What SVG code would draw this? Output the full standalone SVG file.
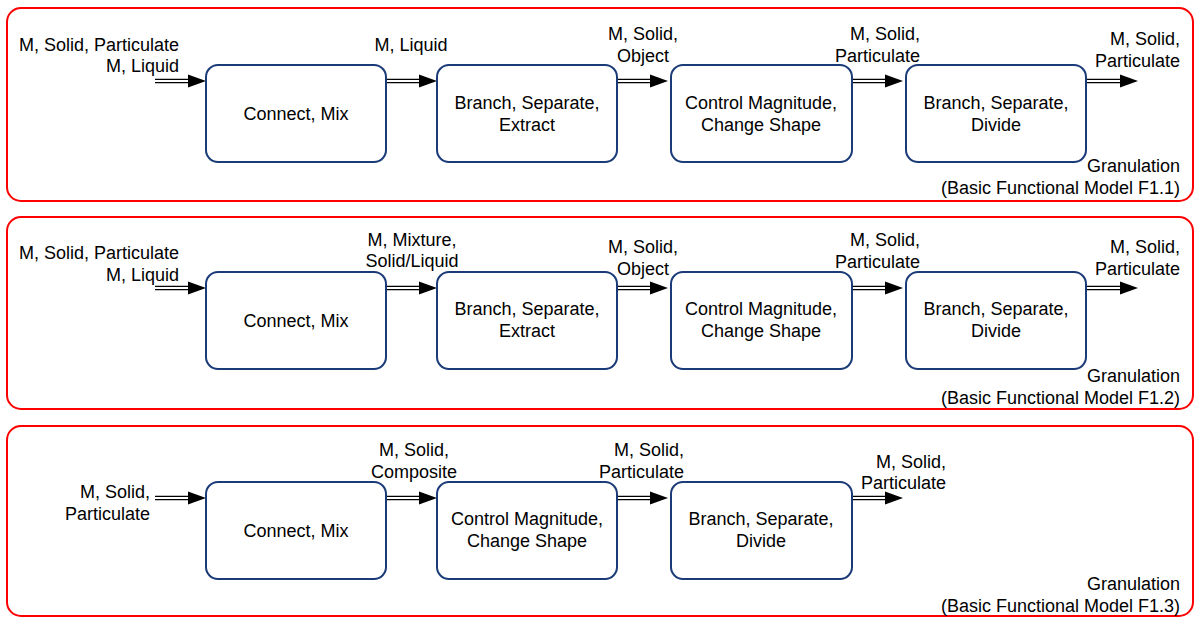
<svg xmlns="http://www.w3.org/2000/svg" width="1194" height="617" viewBox="0 0 1194 617">
<style>
.panel{fill:none;stroke:#ff0000;stroke-width:2}
.box{fill:#ffffff;stroke:#1a3a78;stroke-width:2}
text{font-family:"Liberation Sans",Arial,sans-serif;font-size:18px;fill:#000}
.m{text-anchor:middle}
.e{text-anchor:end}
.lo{stroke:#000;stroke-width:4.6;fill:none}
.li{stroke:#fff;stroke-width:2;fill:none}
</style>
<defs>
<g id="arr">
<line class="lo" x1="0" y1="0" x2="34" y2="0"/>
<line class="li" x1="0" y1="0" x2="34" y2="0"/>
<polygon points="33,-6.5 51,0 33,6.5" fill="#000"/>
</g>
</defs>
<rect class="panel" x="7" y="8" width="1186" height="193" rx="14"/>
<rect class="panel" x="7" y="217" width="1186" height="192" rx="14"/>
<rect class="panel" x="7" y="426" width="1186" height="190" rx="14"/>
<g id="connectors">
<use href="#arr" x="155" y="81"/>
<use href="#arr" x="386" y="81"/>
<use href="#arr" x="617" y="81"/>
<use href="#arr" x="852" y="81"/>
<use href="#arr" x="1087" y="81"/>
<use href="#arr" x="155" y="288"/>
<use href="#arr" x="386" y="288"/>
<use href="#arr" x="617" y="288"/>
<use href="#arr" x="852" y="288"/>
<use href="#arr" x="1087" y="288"/>
<use href="#arr" x="155" y="498"/>
<use href="#arr" x="386" y="498"/>
<use href="#arr" x="617" y="498"/>
<use href="#arr" x="852" y="498"/>
</g>
<g id="p1n1"><rect class="box" x="206" y="65" width="180" height="97" rx="12"/><text class="m" x="296" y="120">Connect, Mix</text></g>
<g id="p1n2"><rect class="box" x="437" y="65" width="180" height="97" rx="12"/><text class="m" x="527" y="109">Branch, Separate,</text><text class="m" x="527" y="131">Extract</text></g>
<g id="p1n3"><rect class="box" x="671" y="65" width="181" height="97" rx="12"/><text class="m" x="761" y="109">Control Magnitude,</text><text class="m" x="761" y="131">Change Shape</text></g>
<g id="p1n4"><rect class="box" x="906" y="65" width="180" height="97" rx="12"/><text class="m" x="996" y="109">Branch, Separate,</text><text class="m" x="996" y="131">Divide</text></g>
<g id="p1labels">
<text class="e" x="179" y="50.5">M, Solid, Particulate</text>
<text class="e" x="179" y="72">M, Liquid</text>
<text class="m" x="411" y="50.5">M, Liquid</text>
<text class="m" x="643" y="39.5">M, Solid,</text><text class="m" x="643" y="61.5">Object</text>
<text class="e" x="920" y="39.5">M, Solid,</text><text class="e" x="920" y="61.5">Particulate</text>
<text class="e" x="1180" y="44.5">M, Solid,</text><text class="e" x="1180" y="66.5">Particulate</text>
<text class="e" x="1180" y="171.5">Granulation</text>
<text class="e" x="1180" y="193.5">(Basic Functional Model F1.1)</text>
</g>
<g id="p2n1"><rect class="box" x="206" y="272" width="180" height="97" rx="12"/><text class="m" x="296" y="327">Connect, Mix</text></g>
<g id="p2n2"><rect class="box" x="437" y="272" width="180" height="97" rx="12"/><text class="m" x="527" y="315">Branch, Separate,</text><text class="m" x="527" y="337">Extract</text></g>
<g id="p2n3"><rect class="box" x="671" y="272" width="181" height="97" rx="12"/><text class="m" x="761" y="315">Control Magnitude,</text><text class="m" x="761" y="337">Change Shape</text></g>
<g id="p2n4"><rect class="box" x="906" y="272" width="180" height="97" rx="12"/><text class="m" x="996" y="315">Branch, Separate,</text><text class="m" x="996" y="337">Divide</text></g>
<g id="p2labels">
<text class="e" x="179" y="258.5">M, Solid, Particulate</text>
<text class="e" x="179" y="280.5">M, Liquid</text>
<text class="m" x="412" y="245.5">M, Mixture,</text><text class="m" x="412" y="267">Solid/Liquid</text>
<text class="m" x="643" y="252.5">M, Solid,</text><text class="m" x="643" y="274.5">Object</text>
<text class="e" x="920" y="245.5">M, Solid,</text><text class="e" x="920" y="267.5">Particulate</text>
<text class="e" x="1180" y="252.5">M, Solid,</text><text class="e" x="1180" y="274.5">Particulate</text>
<text class="e" x="1180" y="381.5">Granulation</text>
<text class="e" x="1180" y="403.5">(Basic Functional Model F1.2)</text>
</g>
<g id="p3n1"><rect class="box" x="206" y="482" width="180" height="97" rx="12"/><text class="m" x="296" y="537">Connect, Mix</text></g>
<g id="p3n2"><rect class="box" x="437" y="482" width="180" height="97" rx="12"/><text class="m" x="527" y="525">Control Magnitude,</text><text class="m" x="527" y="547">Change Shape</text></g>
<g id="p3n3"><rect class="box" x="671" y="482" width="181" height="97" rx="12"/><text class="m" x="761" y="525">Branch, Separate,</text><text class="m" x="761" y="547">Divide</text></g>
<g id="p3labels">
<text class="e" x="150" y="498">M, Solid,</text><text class="e" x="150" y="519.5">Particulate</text>
<text class="m" x="414" y="455.5">M, Solid,</text><text class="m" x="414" y="477.5">Composite</text>
<text class="e" x="684" y="455.5">M, Solid,</text><text class="e" x="684" y="477.5">Particulate</text>
<text class="e" x="946" y="468">M, Solid,</text><text class="e" x="946" y="489">Particulate</text>
<text class="e" x="1180" y="589.5">Granulation</text>
<text class="e" x="1180" y="611.5">(Basic Functional Model F1.3)</text>
</g>
</svg>
